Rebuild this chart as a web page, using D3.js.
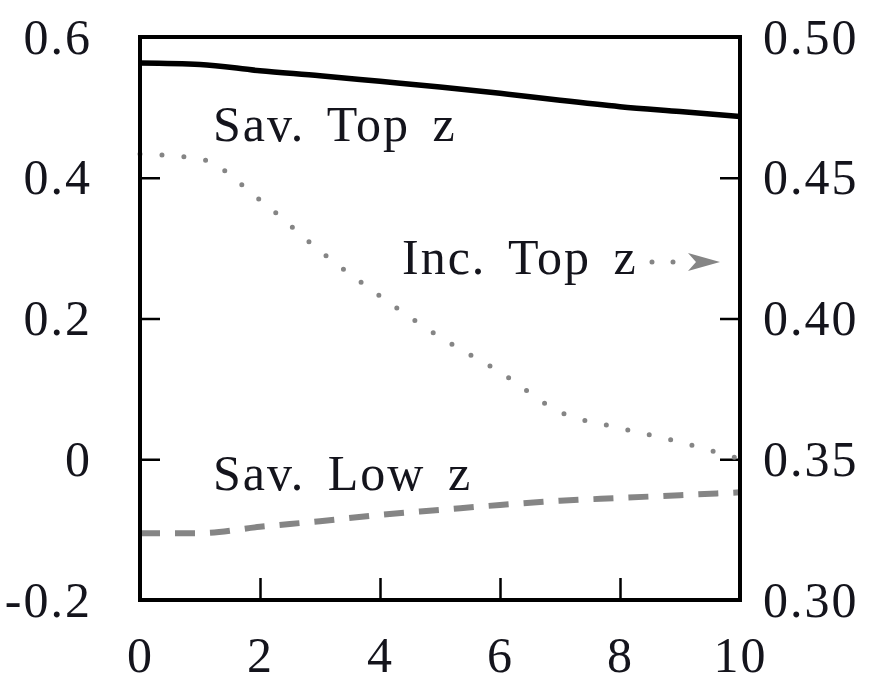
<!DOCTYPE html>
<html>
<head>
<meta charset="utf-8">
<script src="https://cdn.jsdelivr.net/npm/d3@7"></script>
<style>
  html, body { margin: 0; padding: 0; background: #ffffff; }
  svg { display: block; }
  text { font-family: "Liberation Serif", "DejaVu Serif", serif; fill: #14141c; }
</style>
</head>
<body>
<svg id="chart" width="869" height="688"></svg>
<script>
// Horizontal position shared by all three series
const xValues = [0, 1, 2, 3, 4, 5, 6, 7, 8, 9, 10];

// Savings, top z (left axis)
const savTop = [0.563, 0.561, 0.552, 0.545, 0.537, 0.529, 0.520, 0.510, 0.501, 0.494, 0.487];
// Income, top z (right axis)
const incTop = [0.4584, 0.4567, 0.4421, 0.4240, 0.4080, 0.3934, 0.3810, 0.3668, 0.3611, 0.3561, 0.3501];
// Savings, low z (left axis)
const savLow = [-0.105, -0.105, -0.096, -0.088, -0.079, -0.072, -0.065, -0.059, -0.055, -0.051, -0.047];

// Tick values and labels
const xTicks = [0, 2, 4, 6, 8, 10];
const leftTicks = [-0.2, 0, 0.2, 0.4, 0.6];
const leftTickLabels = ["-0.2", "0", "0.2", "0.4", "0.6"];
const rightTicks = [0.30, 0.35, 0.40, 0.45, 0.50];
const rightTickLabels = ["0.30", "0.35", "0.40", "0.45", "0.50"];

// Series labels
const labelSavTop = "Sav. Top z";
const labelIncTop = "Inc. Top z";
const labelSavLow = "Sav. Low z";

const svg = d3.select("#chart");
const plotLeft = 140, plotRight = 740, plotTop = 37, plotBottom = 600;

const x = d3.scaleLinear().domain([0, 10]).range([plotLeft, plotRight]);
const yL = d3.scaleLinear().domain([-0.2, 0.6]).range([plotBottom, plotTop]);
const yR = d3.scaleLinear().domain([0.30, 0.50]).range([plotBottom, plotTop]);

const fontSize = 50;
const letterSpacing = "2px";

// Axes with inward ticks
const gx = svg.append("g")
  .attr("transform", `translate(0,${plotBottom})`)
  .call(d3.axisBottom(x).tickValues(xTicks).tickFormat(d3.format("d"))
    .tickSizeInner(-22).tickSizeOuter(0).tickPadding(36));

const gl = svg.append("g")
  .attr("transform", `translate(${plotLeft},0)`)
  .call(d3.axisLeft(yL).tickValues(leftTicks)
    .tickFormat((d, i) => leftTickLabels[i])
    .tickSizeInner(-20).tickSizeOuter(0).tickPadding(48));

const gr = svg.append("g")
  .attr("transform", `translate(${plotRight},0)`)
  .call(d3.axisRight(yR).tickValues(rightTicks)
    .tickFormat((d, i) => rightTickLabels[i])
    .tickSizeInner(-20).tickSizeOuter(0).tickPadding(23));

[gx, gl, gr].forEach(g => {
  g.select(".domain").remove();
  g.selectAll(".tick line").attr("stroke", "#000").attr("stroke-width", 2.5);
  g.selectAll(".tick text")
    .style("font-family", "'Liberation Serif', 'DejaVu Serif', serif")
    .style("font-size", fontSize + "px")
    .style("letter-spacing", letterSpacing)
    .attr("fill", "#14141c");
});

// Series lines
const lineL = d3.line().x((d, i) => x(xValues[i])).y(d => yL(d)).curve(d3.curveMonotoneX);
const lineR = d3.line().x((d, i) => x(xValues[i])).y(d => yR(d)).curve(d3.curveMonotoneX);

svg.append("path").datum(savLow)
  .attr("d", lineL)
  .attr("fill", "none")
  .attr("stroke", "#858585")
  .attr("stroke-width", 6)
  .attr("stroke-dasharray", "20,15");

svg.append("path").datum(incTop)
  .attr("d", lineR)
  .attr("fill", "none")
  .attr("stroke", "#858585")
  .attr("stroke-width", 5)
  .attr("stroke-linecap", "round")
  .attr("stroke-dasharray", "0,22");

svg.append("path").datum(savTop)
  .attr("d", lineL)
  .attr("fill", "none")
  .attr("stroke", "#000")
  .attr("stroke-width", 5.5);

// Plot frame
svg.append("rect")
  .attr("x", plotLeft).attr("y", plotTop)
  .attr("width", plotRight - plotLeft).attr("height", plotBottom - plotTop)
  .attr("fill", "none")
  .attr("stroke", "#000")
  .attr("stroke-width", 4);

// Series labels
const labelStyle = sel => sel
  .style("font-size", fontSize + "px")
  .style("letter-spacing", letterSpacing)
  .style("word-spacing", "8px");

svg.append("text").attr("x", 213).attr("y", 141).text(labelSavTop).call(labelStyle);
svg.append("text").attr("x", 213).attr("y", 490).text(labelSavLow).call(labelStyle);
svg.append("text").attr("x", 402).attr("y", 274).text(labelIncTop).call(labelStyle);

// Dotted arrow from the income label towards the right axis
const arrowY = 262;
svg.append("line")
  .attr("x1", 652).attr("x2", 690)
  .attr("y1", arrowY).attr("y2", arrowY)
  .attr("stroke", "#858585")
  .attr("stroke-width", 5)
  .attr("stroke-linecap", "round")
  .attr("stroke-dasharray", "0,21");
svg.append("path")
  .attr("d", `M720,${arrowY} L688,${arrowY - 9} L696,${arrowY} L688,${arrowY + 9} Z`)
  .attr("fill", "#858585");
</script>
</body>
</html>
